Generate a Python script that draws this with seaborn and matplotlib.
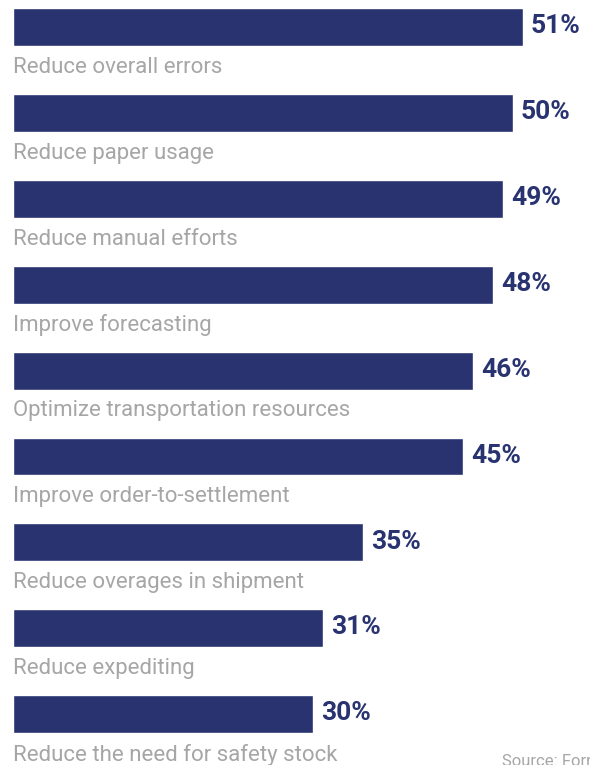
import numpy as np
import pandas as pd
import matplotlib.pyplot as plt
import seaborn as sns

# values
categories = ['Reduce overall errors', 'Reduce paper usage', 'Reduce manual efforts',
              'Improve forecasting', 'Optimize transportation resources',
              'Improve order-to-settlement', 'Reduce overages in shipment',
              'Reduce expediting', 'Reduce the need for safety stock']
percent = [51, 50, 49, 48, 46, 45, 35, 31, 30]
source_note = 'Source: Forrester'

df = pd.DataFrame({'category': categories, 'percent': percent})

navy = '#283370'
grey = '#a6a6a6'

sns.set_theme(style='white')
plt.rcParams['font.family'] = ['Roboto', 'DejaVu Sans']

fig = plt.figure(figsize=(5.9, 7.65), dpi=100)
ax = fig.add_axes([0, 0, 1, 1])

sns.barplot(data=df, y='category', x='percent', orient='h', color=navy,
            saturation=1, width=0.442, ax=ax)

# pixel layout -> data units
px_per_pct = 10.0
pitch = 85.9
ax.set_xlim(-13 / px_per_pct, (590 - 13) / px_per_pct)
ax.set_ylim((765 - 27) / pitch, -27 / pitch)
ax.set_axis_off()

for i, (cat, val) in enumerate(zip(categories, percent)):
    ax.text(0, i + 0.47, cat, ha='left', va='center', fontsize=16,
            color=grey, fontweight='normal')
    ax.text(val + 0.8, i - 0.01, f'{val}%', ha='left', va='center',
            fontsize=19, color=navy, fontweight='bold')

fig.text(502 / 590, 1 - 762 / 765, source_note, ha='left', va='center',
         fontsize=12, color=grey, fontweight='normal')

fig.savefig('out.png', dpi=100)
